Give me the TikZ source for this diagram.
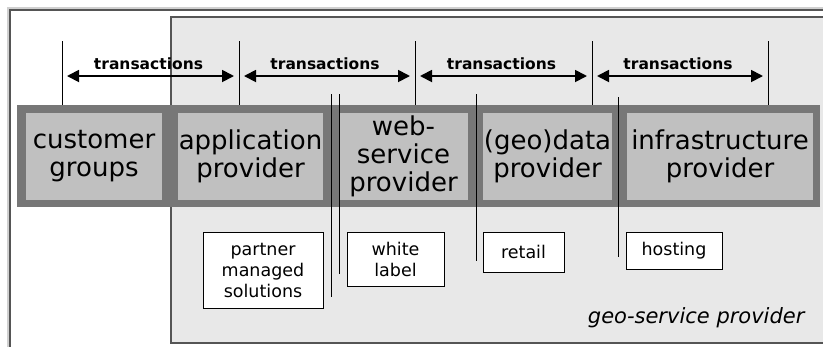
\documentclass[tikz,border=0pt]{standalone}
\usepackage{fontspec}
\setmainfont{DejaVu Sans}
\usetikzlibrary{arrows.meta}
\definecolor{bandgray}{HTML}{777777}
\definecolor{boxgray}{HTML}{C0C0C0}
\definecolor{areagray}{HTML}{E8E8E8}
\definecolor{framegray}{HTML}{555555}
\definecolor{edgegray}{HTML}{D0D0D0}
\begin{document}
\begin{tikzpicture}[x=1pt,y=-1pt,
  role/.style={fill=boxgray, draw=none, inner sep=0pt, minimum width=#1,
    minimum height=87pt, align=center, font=\fontsize{26}{28}\selectfont},
  offer/.style={draw=black, line width=0.8pt, fill=white, inner sep=0pt,
    align=center, font=\fontsize{17.5}{21}\selectfont},
  tick/.style={draw=black, line width=0.9pt},
  flow/.style={draw=black, line width=1.8pt,
    {Triangle[length=12pt,width=12pt]}-{Triangle[length=12pt,width=12pt]},
    shorten <=5pt, shorten >=5pt},
  flowlabel/.style={anchor=base, yshift=7pt, xshift=-2pt,
    font=\fontsize{15.5}{18}\selectfont\bfseries},
]
\useasboundingbox (0,0) rectangle (823,346);
\clip (0,0) rectangle (823,346);

% outer frame (runs on past the right and bottom edges)
\draw[edgegray, line width=1.2pt] (8,400) |- (900,8);
\draw[framegray, line width=1.6pt] (10,400) |- (900,10);

% geo-service provider area
\draw[framegray, line width=1.6pt, fill=areagray] (171,17) rectangle (900,343);
\node[anchor=base east, font=\fontsize{21}{24}\selectfont\itshape] (gsp)
  at (808,323) {geo-service provider};

% value-chain band
\fill[bandgray] (17,105) rectangle (820,207);

% roles
\node[role=136pt] (cust)  at (94,156.5)    {customer\\groups};
\node[role=145pt] (app)   at (250.5,156.5) {application\\provider};
\node[role=129pt] (web)   at (403.5,156.5) {web-\\service\\provider};
\node[role=129pt] (geo)   at (547.5,156.5) {(geo)data\\provider};
\node[role=186pt] (infra) at (720,156.5)   {infrastructure\\provider};

% business models
\node[offer, minimum width=120pt, minimum height=76pt] (partner) at (263,270)
  {partner\\managed\\solutions};
\node[offer, minimum width=97pt, minimum height=54pt] (white) at (395.5,259)
  {white\\label};
\node[offer, minimum width=81pt, minimum height=40pt] (retail) at (523.5,252)
  {retail};
\node[offer, minimum width=96pt, minimum height=37pt] (hosting) at (674,250.5)
  {hosting};

% dividers reaching down to the business models
\coordinate (d1t) at (331,94);  \coordinate (d1b) at (331,297);
\coordinate (d2t) at (339,94);  \coordinate (d2b) at (339,274);
\coordinate (d3t) at (476,94);  \coordinate (d3b) at (476,261);
\coordinate (d4t) at (618,97);  \coordinate (d4b) at (618,257);
\foreach \i in {1,...,4} \draw[tick] (d\i t) -- (d\i b);

% transaction markers
\foreach \i/\x in {1/62,2/239,3/415,4/592,5/768} {
  \coordinate (m\i t) at (\x,41);
  \coordinate (m\i b) at (\x,105);
  \coordinate (m\i) at (\x,76);
  \draw[tick] (m\i t) -- (m\i b);
}

% transactions between neighbouring roles
\foreach \i/\j in {1/2,2/3,3/4,4/5}
  \draw[flow] (m\i) -- (m\j) node[flowlabel, midway] (tr\i) {transactions};
\end{tikzpicture}
\end{document}
